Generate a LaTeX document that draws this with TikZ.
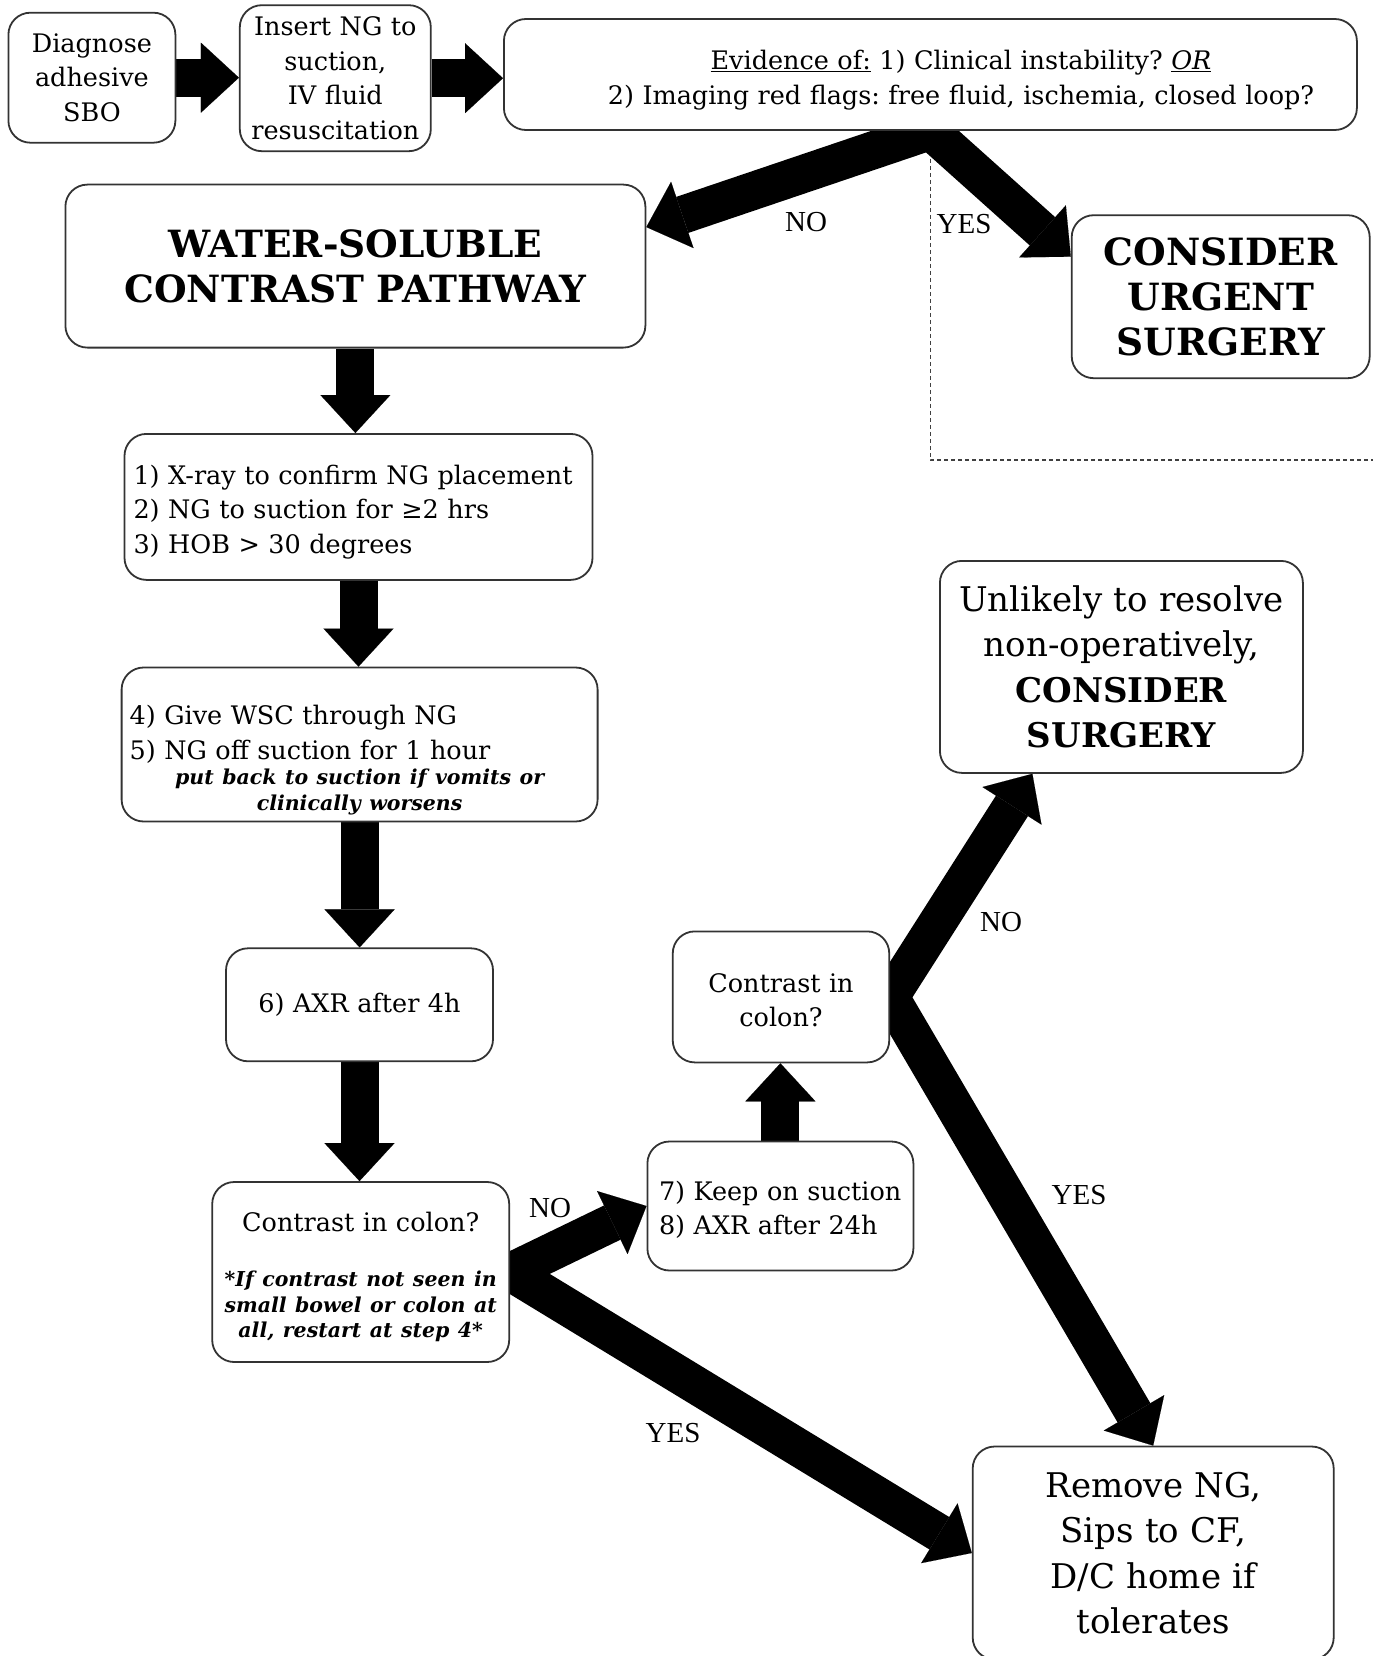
\documentclass[tikz,border=0pt]{standalone}
\usepackage{fontspec}
\setmainfont{DejaVu Serif}
\newfontfamily\labfont{Liberation Serif}
\usetikzlibrary{arrows.meta,backgrounds,calc}
\frenchspacing
\newcommand\mfont{\fontsize{25.5}{34.5}\selectfont}
\newcommand\bgfont{\fontsize{34}{45.5}\selectfont}
\newcommand\ttlfont{\fontsize{37.5}{45}\selectfont\bfseries}
\newcommand\smbi{\fontsize{20.5}{25.5}\selectfont\bfseries\itshape}
\tikzset{
  box/.style={draw=black!80, line width=1.8pt, rounded corners=22pt, fill=white, inner sep=0pt},
  txt/.style={inner sep=0pt},
  fat/.style={draw=black, line width=38pt, line join=miter,
    -{Triangle[length=38pt,width=70pt,line width=0.1pt]}},
  fatv/.style={draw=black, line width=38pt, line join=miter,
    {Triangle[length=38pt,width=70pt,line width=0.1pt]}-{Triangle[length=38pt,width=70pt,line width=0.1pt]}},
  lab/.style={font=\labfont\fontsize{29}{30}\selectfont, inner sep=0pt},
  guide/.style={draw=black!75, line width=1.3pt, dash pattern=on 4pt off 3pt}
}
\begin{document}
\begin{tikzpicture}[x=1pt,y=-1pt]
\useasboundingbox (0,0) rectangle (1373,1656);
% boxes
\node[box, font=\mfont, minimum width=167pt, minimum height=130pt, text width=155pt, align=center] (b1) at (91.9,77.7) {Diagnose\\ adhesive\\ SBO};
\node[box, font=\mfont, minimum width=191pt, minimum height=146pt, text width=185pt, align=center] (b2) at (335.3,78.2) {Insert NG to\\ suction,\\ IV fluid\\ resuscitation};
\node[box, minimum width=853pt, minimum height=111pt] (b3) at (930.4,74.5) {};
\node[txt, font=\mfont, text width=840pt, align=center] (b3t) at (961,80) {\underline{Evidence of:} 1) Clinical instability? \underline{\textit{OR}}\\ 2) Imaging red flags: free fluid, ischemia, closed loop?};
\node[box, font=\ttlfont, minimum width=580pt, minimum height=163pt, text width=570pt, align=center] (wsc) at (355.4,266.1) {WATER-SOLUBLE\\ CONTRAST PATHWAY};
\node[box, font=\ttlfont, minimum width=298pt, minimum height=163pt, text width=290pt, align=center] (urg) at (1220.7,296.7) {CONSIDER\\ URGENT\\ SURGERY};
\node[box, minimum width=468pt, minimum height=146pt] (l1) at (358.5,506.9) {};
\node[txt, font=\mfont, text width=452pt, align=left] (l1t) at (359.5,512) {1) X-ray to confirm NG placement\\ 2) NG to suction for ≥2 hrs\\ 3) HOB > 30 degrees};
\node[box, minimum width=476pt, minimum height=154pt] (l2) at (359.6,744.5) {};
\node[txt, font=\mfont, text width=460pt, align=left] (l2t) at (359.6,760) {4) Give WSC through NG\\ 5) NG off suction for 1 hour\par
 {\centering\smbi put back to suction if vomits or\\ clinically worsens\par}};
\node[box, font=\mfont, minimum width=267pt, minimum height=113pt, text width=255pt, align=center] (axr) at (359.5,1004.8) {6) AXR after 4h};
\node[box, minimum width=297pt, minimum height=180pt] (c1) at (360.7,1272) {};
\node[txt, font=\mfont, text width=289pt, align=center] (c1t) at (360.7,1277) {Contrast in colon?\par\vspace{30pt}
 {\smbi *If contrast not seen in\\ small bowel or colon at\\ all, restart at step 4*\par}};
\node[box, minimum width=266pt, minimum height=129pt] (keep) at (780.4,1206) {};
\node[txt, font=\mfont, text width=252pt, align=left] (keept) at (785,1210) {7) Keep on suction\\ 8) AXR after 24h};
\node[box, minimum width=216.5pt, minimum height=131pt] (c2) at (781,996.9) {};
\node[txt, font=\mfont, text width=205pt, align=center] (c2t) at (781,1000) {Contrast in\\ colon?};
\node[box, font=\bgfont, minimum width=363pt, minimum height=212pt, text width=355pt, align=center] (unl) at (1121.4,666.9) {Unlikely to resolve\\ non-operatively,\\ \textbf{CONSIDER}\\ \textbf{SURGERY}};
\node[box, font=\bgfont, minimum width=361pt, minimum height=213pt, text width=350pt, align=center] (rem) at (1153.2,1553) {Remove NG,\\ Sips to CF,\\ D/C home if\\ tolerates};
% labels
\node[lab] (no1) at (806,222) {NO};
\node[lab] (yes1) at (964,224) {YES};
\node[lab] (no2) at (550,1208) {NO};
\node[lab] (yes2) at (673,1433) {YES};
\node[lab] (no3) at (1001,922) {NO};
\node[lab] (yes3) at (1079,1195) {YES};
\coordinate (dc) at (1373,460);
\begin{pgfonlayer}{background}
\draw[guide] (b3.south) -- (b3.south |- dc) -- (dc);
\draw[fat] (b1.east) -- (b1.east -| b2.west);
\draw[fat] (b2.east) -- (b2.east -| b3.west);
\draw[fatv] ([yshift=39pt]wsc.east) -- (b3.south) -- ([yshift=40pt]urg.west);
\draw[fat] (wsc.south) -- (wsc.south |- l1.north);
\draw[fat] (l1.south) -- (l1.south |- l2.north);
\draw[fat] (l2.south) -- (l2.south |- axr.north);
\draw[fat] (axr.south) -- (axr.south |- c1.north);
\draw[fatv] (keep.west) -- (c1.east) -- (rem.west);
\draw[fat] (keep.north) -- (keep.north |- c2.south);
\draw[fatv] ([xshift=-89pt]unl.south) -- (c2.east) -- (rem.north);
\end{pgfonlayer}
\end{tikzpicture}
\end{document}
